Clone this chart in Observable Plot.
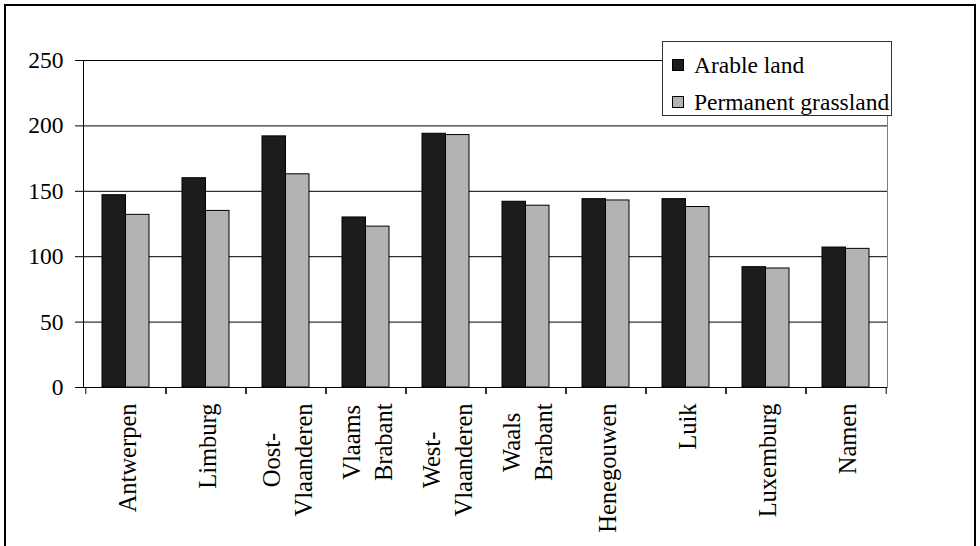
<!DOCTYPE html>
<html>
<head>
<meta charset="utf-8">
<script src="https://cdn.jsdelivr.net/npm/d3@7"></script>
<script src="https://cdn.jsdelivr.net/npm/@observablehq/plot@0.6"></script>
<style>
  html, body { margin: 0; padding: 0; background: #fff; overflow: hidden; }
  #wrap { position: relative; width: 980px; height: 546px; overflow: hidden; background: #fff; }
  #border { position: absolute; left: 4px; top: 4px; width: 972px; height: 600px; border: 2px solid #000; box-sizing: border-box; pointer-events: none; }
  #chart { position: absolute; left: 0; top: 0; }
  #legend { position: absolute; left: 662px; top: 41px; width: 230px; height: 75px; box-sizing: border-box;
            border: 1px solid #333; background: #fff; color: #000; }
  .item { position: absolute; left: 9px; display: flex; align-items: center; white-space: nowrap;
          font-family: 'Liberation Serif', 'Times New Roman', serif; font-size: 23.5px; line-height: 26px; }
  .sw { width: 12px; height: 12px; border: 1px solid #000; box-sizing: border-box; margin-right: 10px; flex: none; }
</style>
</head>
<body>
<div id="wrap">
  <div id="chart"></div>
  <div id="legend"></div>
  <div id="border"></div>
</div>
<script>
// Provinces (category axis) and their two-line axis labels
const categories = ["Antwerpen", "Limburg", "Oost-Vlaanderen", "Vlaams Brabant", "West-Vlaanderen",
                    "Waals Brabant", "Henegouwen", "Luik", "Luxemburg", "Namen"];
const categoryLabels = ["Antwerpen", "Limburg", "Oost-\nVlaanderen", "Vlaams\nBrabant", "West-\nVlaanderen",
                        "Waals\nBrabant", "Henegouwen", "Luik", "Luxemburg", "Namen"];

// Series values per province
const seriesNames = ["Arable land", "Permanent grassland"];
const arableLand = [147, 160, 192, 130, 194, 142, 144, 144, 92, 107];
const permanentGrassland = [132, 135, 163, 123, 193, 139, 143, 138, 91, 106];

// Y axis ticks
const yTicks = [0, 50, 100, 150, 200, 250];

const seriesColors = ["#1c1c1c", "#b3b3b3"];

const rows = categories.map((c, i) => ({category: c, arable: arableLand[i], grass: permanentGrassland[i]}));

// Layout
const W = 980, H = 546;
const margin = {top: 60, right: 93, bottom: 159, left: 83};
const plotW = W - margin.left - margin.right;
const step = plotW / categories.length;
const padInner = 0.415;
const bandW = step * (1 - padInner);
const labelFont = 24.5;
const fontFamily = "'Liberation Serif', 'Times New Roman', serif";

// Measure label lines so each multi-line label hangs from the same top line
const ctx = document.createElement("canvas").getContext("2d");
ctx.font = `${labelFont}px ${fontFamily}`;
const labelWidth = categoryLabels.map(l => Math.max(...l.split("\n").map(s => ctx.measureText(s).width)));

const labelMarks = categories.map((c, i) =>
  Plot.text([c], {
    x: d => d,
    text: () => categoryLabels[i],
    frameAnchor: "bottom",
    rotate: -90,
    textAnchor: "middle",
    lineAnchor: "middle",
    lineHeight: 1.29,
    fontSize: labelFont,
    fill: "#000",
    dy: 16 + labelWidth[i] / 2
  })
);

const chart = Plot.plot({
  width: W,
  height: H,
  marginTop: margin.top,
  marginRight: margin.right,
  marginBottom: margin.bottom,
  marginLeft: margin.left,
  style: {background: "#fff", fontFamily, fontSize: "23px", color: "#000"},
  x: {domain: categories, type: "band", paddingInner: padInner, paddingOuter: padInner / 2, axis: null},
  y: {domain: [0, 250], axis: null},
  marks: [
    Plot.frame({stroke: "#808080"}),
    Plot.gridY(yTicks, {stroke: "#000", strokeOpacity: 1}),
    Plot.barY(rows, {x: "category", y: "arable", fill: seriesColors[0], stroke: "#000", strokeWidth: 1, insetRight: bandW / 2}),
    Plot.barY(rows, {x: "category", y: "grass", fill: seriesColors[1], stroke: "#000", strokeWidth: 1, insetLeft: bandW / 2}),
    Plot.frame({anchor: "left", stroke: "#000"}),
    Plot.ruleY([0], {stroke: "#000"}),
    Plot.axisY({ticks: yTicks, tickSize: 8, tickPadding: 12, fontSize: 23.5, label: null, stroke: "#000"}),
    Plot.axisX({tickSize: 7, text: null, label: null, dx: -step / 2, stroke: "#000"}),
    Plot.axisX({tickSize: 7, text: null, label: null, dx: step / 2, stroke: "#000"}),
    ...labelMarks
  ]
});
document.getElementById("chart").appendChild(chart);

// Legend box
const legend = document.getElementById("legend");
seriesNames.forEach((name, i) => {
  const item = document.createElement("div");
  item.className = "item";
  item.style.top = (i === 0 ? 10 : 47) + "px";
  const sw = document.createElement("span");
  sw.className = "sw";
  sw.style.background = seriesColors[i];
  const tx = document.createElement("span");
  tx.textContent = name;
  item.appendChild(sw);
  item.appendChild(tx);
  legend.appendChild(item);
});
</script>
</body>
</html>
